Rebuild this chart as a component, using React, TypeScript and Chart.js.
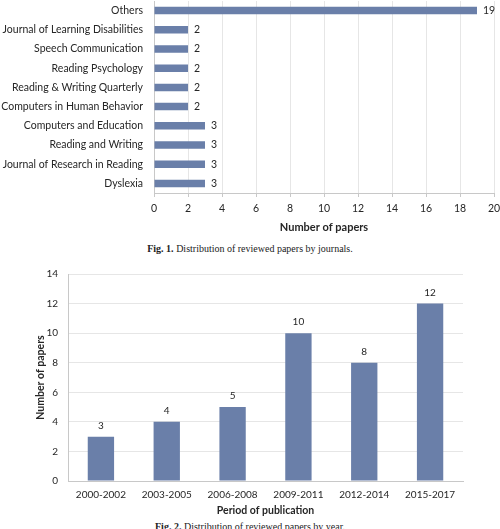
import React, { useEffect, useRef } from "react";
import { Chart, registerables } from "chart.js";

Chart.register(...registerables);

const journals = [
  "Others",
  "Journal of Learning Disabilities",
  "Speech Communication",
  "Reading Psychology",
  "Reading & Writing Quarterly",
  "Computers in Human Behavior",
  "Computers and Education",
  "Reading and Writing",
  "Journal of Research in Reading",
  "Dyslexia",
];
const journalPapers = [19, 2, 2, 2, 2, 2, 3, 3, 3, 3];
const journalTicks = [0, 2, 4, 6, 8, 10, 12, 14, 16, 18, 20];

const periods = ["2000-2002", "2003-2005", "2006-2008", "2009-2011", "2012-2014", "2015-2017"];
const periodPapers = [3, 4, 5, 10, 8, 12];
const periodTicks = [0, 2, 4, 6, 8, 10, 12, 14];

const FONT = "Lato, 'Noto Sans', sans-serif";
const TEXT = "#262626";
const BAR = "#6a7fa9";
const GRID = "#e6e6e6";
const AXIS = "#c8c8c8";

const valueLabels = (horizontal: boolean, size: number) => ({
  id: "valueLabels",
  afterDatasetsDraw(chart: any) {
    const ctx = chart.ctx;
    const meta = chart.getDatasetMeta(0);
    const data = chart.data.datasets[0].data;
    ctx.save();
    ctx.font = `${size}px ${FONT}`;
    ctx.fillStyle = TEXT;
    ctx.textBaseline = "middle";
    meta.data.forEach((el: any, i: number) => {
      const v = String(data[i]);
      if (horizontal) {
        ctx.textAlign = "left";
        ctx.fillText(v, el.x + 6, el.y);
      } else {
        ctx.textAlign = "center";
        ctx.fillText(v, el.x, el.y - 11);
      }
    });
    ctx.restore();
  },
});

const noPad = (scale: any) => {
  scale.paddingTop = 0;
  scale.paddingBottom = 0;
  scale.paddingLeft = 0;
  scale.paddingRight = 0;
};

function JournalChart() {
  const ref = useRef<HTMLCanvasElement | null>(null);
  useEffect(() => {
    if (!ref.current) return;
    const chart = new Chart(ref.current, {
      type: "bar",
      data: {
        labels: journals,
        datasets: [
          {
            data: journalPapers,
            backgroundColor: BAR,
            barPercentage: 0.39,
            categoryPercentage: 1,
          },
        ],
      },
      options: {
        indexAxis: "y",
        animation: false,
        responsive: false,
        layout: { padding: { top: 1, right: 6, left: 0, bottom: 0 } },
        plugins: { legend: { display: false }, tooltip: { enabled: false } },
        scales: {
          x: {
            min: 0,
            max: 20,
            afterBuildTicks: (scale: any) => {
              scale.ticks = journalTicks.map((v) => ({ value: v }));
            },
            afterFit: (scale: any) => {
              scale.height = 45;
              noPad(scale);
            },
            grid: { color: GRID, tickLength: 4, tickColor: AXIS },
            border: { display: true, color: AXIS },
            ticks: { font: { family: FONT, size: 10.5 }, color: TEXT, padding: 5 },
            title: {
              display: true,
              text: "Number of papers",
              font: { family: FONT, size: 11, weight: "bold" },
              color: TEXT,
              padding: { top: 0, bottom: 4 },
            },
          },
          y: {
            afterFit: (scale: any) => {
              scale.width = 154;
              noPad(scale);
            },
            grid: { display: false, drawTicks: false },
            border: { display: true, color: AXIS },
            ticks: { font: { family: FONT, size: 10.5 }, color: TEXT, padding: 11 },
          },
        },
      },
      plugins: [valueLabels(true, 10.5)],
    } as any);
    return () => chart.destroy();
  }, []);
  return <canvas ref={ref} width={500} height={238} style={{ display: "block" }} />;
}

function PeriodChart() {
  const ref = useRef<HTMLCanvasElement | null>(null);
  useEffect(() => {
    if (!ref.current) return;
    const chart = new Chart(ref.current, {
      type: "bar",
      data: {
        labels: periods,
        datasets: [
          {
            data: periodPapers,
            backgroundColor: BAR,
            barPercentage: 0.4,
            categoryPercentage: 1,
          },
        ],
      },
      options: {
        animation: false,
        responsive: false,
        layout: { padding: { top: 10, right: 37, left: 0, bottom: 2 } },
        plugins: { legend: { display: false }, tooltip: { enabled: false } },
        scales: {
          x: {
            afterFit: (scale: any) => {
              scale.height = 36;
              noPad(scale);
            },
            grid: { display: false, drawTicks: false },
            border: { display: true, color: AXIS },
            ticks: { font: { family: FONT, size: 10 }, color: TEXT, padding: 8 },
            title: {
              display: true,
              text: "Period of publication",
              font: { family: FONT, size: 10.5, weight: "bold" },
              color: TEXT,
              padding: { top: 0, bottom: 0 },
            },
          },
          y: {
            min: 0,
            max: 14,
            afterBuildTicks: (scale: any) => {
              scale.ticks = periodTicks.map((v) => ({ value: v }));
            },
            afterFit: (scale: any) => {
              scale.width = 68;
              noPad(scale);
            },
            grid: { color: GRID, drawTicks: false },
            border: { display: true, color: AXIS },
            ticks: { font: { family: FONT, size: 10 }, color: TEXT, padding: 10 },
            title: {
              display: true,
              text: "Number of papers",
              font: { family: FONT, size: 10.5, weight: "bold" },
              color: TEXT,
              padding: { top: 34, bottom: 0 },
            },
          },
        },
      },
      plugins: [valueLabels(false, 10)],
    } as any);
    return () => chart.destroy();
  }, []);
  return <canvas ref={ref} width={500} height={255} style={{ display: "block" }} />;
}

const captionStyle: React.CSSProperties = {
  position: "absolute",
  left: 0,
  width: 500,
  textAlign: "center",
  fontFamily: "'Liberation Serif', 'DejaVu Serif', serif",
  fontSize: 10,
  lineHeight: "12px",
  color: "#222",
  whiteSpace: "nowrap",
};

export default function App() {
  return (
    <div
      style={{
        position: "fixed",
        left: 0,
        top: 0,
        width: 500,
        height: 529,
        overflow: "hidden",
        background: "#fff",
      }}
    >
      <div style={{ position: "absolute", left: 0, top: 0 }}>
        <JournalChart />
      </div>
      <div style={{ ...captionStyle, top: 243 }}>
        <b>Fig. 1.</b> Distribution of reviewed papers by journals.
      </div>
      <div style={{ position: "absolute", left: 0, top: 264 }}>
        <PeriodChart />
      </div>
      <div style={{ ...captionStyle, top: 521 }}>
        <b>Fig. 2.</b> Distribution of reviewed papers by year.
      </div>
    </div>
  );
}
